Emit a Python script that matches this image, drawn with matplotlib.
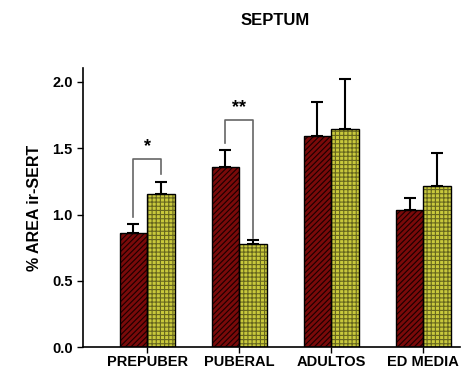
import matplotlib.pyplot as plt
import numpy as np

plt.rcParams['font.family'] = ['Liberation Sans', 'DejaVu Sans']
plt.rcParams['hatch.linewidth'] = 0.8

# data
groups = ['PREPUBER', 'PUBERAL', 'ADULTOS', 'ED MEDIA']
red_vals = [0.86, 1.36, 1.59, 1.035]
red_err = [0.065, 0.13, 0.26, 0.09]
yel_vals = [1.155, 0.78, 1.645, 1.215]
yel_err = [0.09, 0.03, 0.38, 0.25]

x = np.arange(len(groups))
w = 0.30

fig = plt.figure(figsize=(4.62, 3.76), dpi=100)
ax = fig.add_axes([0.18, 0.077, 0.816, 0.742])

# filled bars with coloured hatch, then black outline on top
ax.bar(x - w/2, red_vals, w, color='#7a0a0a', edgecolor='#1a0000', hatch='//////', linewidth=0, zorder=2)
ax.bar(x + w/2, yel_vals, w, color='#c8c83c', edgecolor='#66661e', hatch='++++', linewidth=0, zorder=2)
ax.bar(x - w/2, red_vals, w, fill=False, edgecolor='black', linewidth=1, zorder=3)
ax.bar(x + w/2, yel_vals, w, fill=False, edgecolor='black', linewidth=1, zorder=3)

ax.errorbar(x - w/2, red_vals, yerr=[np.zeros(4), red_err], fmt='none', ecolor='black',
            elinewidth=1.5, capsize=4, capthick=1.5, zorder=4)
ax.errorbar(x + w/2, yel_vals, yerr=[np.zeros(4), yel_err], fmt='none', ecolor='black',
            elinewidth=1.5, capsize=4, capthick=1.5, zorder=4)

# significance brackets
ax.plot([-w/2, -w/2, w/2, w/2], [0.98, 1.42, 1.42, 1.305], color='#666666', lw=1.2, zorder=1)
ax.text(0, 1.45, '*', ha='center', va='bottom', fontsize=13, fontweight='bold')
ax.plot([1 - w/2, 1 - w/2, 1 + w/2, 1 + w/2], [1.54, 1.71, 1.71, 0.82], color='#666666', lw=1.2, zorder=1)
ax.text(1, 1.74, '**', ha='center', va='bottom', fontsize=13, fontweight='bold')

ax.set_xlim(-0.696, 3.40)
ax.set_ylim(0, 2.105)
ax.set_yticks([0.0, 0.5, 1.0, 1.5, 2.0])
ax.set_yticklabels(['0.0', '0.5', '1.0', '1.5', '2.0'])
ax.set_xticks(x)
ax.set_xticklabels(groups)
ax.tick_params(axis='both', labelsize=10.5, direction='out', length=4, width=1)
for lab in ax.get_xticklabels() + ax.get_yticklabels():
    lab.set_fontweight('bold')
ax.tick_params(axis='x', pad=2)
ax.spines['top'].set_visible(False)
ax.spines['right'].set_visible(False)
ax.spines['left'].set_linewidth(1.2)
ax.spines['bottom'].set_linewidth(1.2)

ax.set_ylabel('% AREA ir-SERT', fontsize=11.5, fontweight='bold', labelpad=7)
fig.text(0.595, 0.945, 'SEPTUM', ha='center', va='center', fontsize=12, fontweight='bold')

fig.savefig('out.png', dpi=100)
